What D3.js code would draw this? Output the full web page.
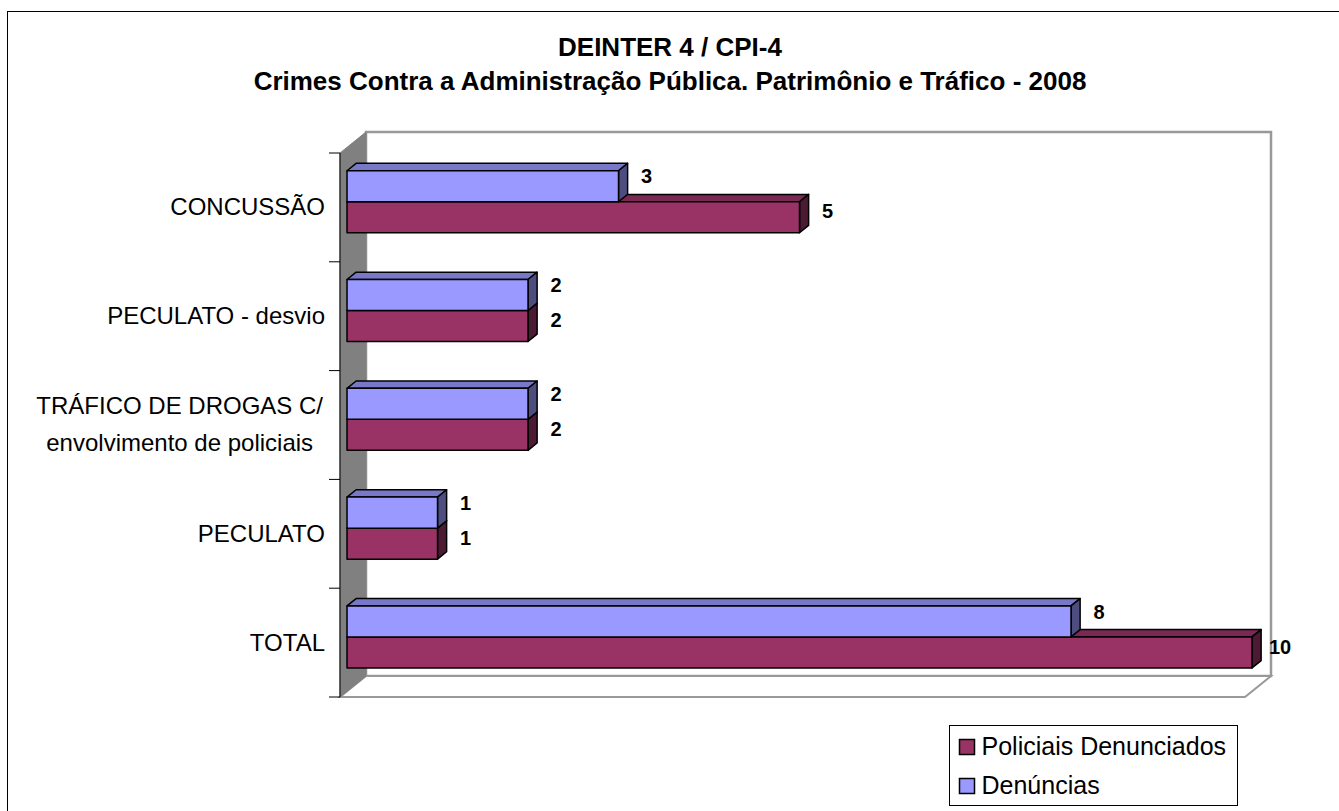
<!DOCTYPE html>
<html>
<head>
<meta charset="utf-8">
<script src="https://cdn.jsdelivr.net/npm/d3@7"></script>
<style>
  body { margin: 0; background: #fff; }
  svg { display: block; font-family: "Liberation Sans", Arial, sans-serif; }
</style>
</head>
<body>
<svg id="chart"></svg>
<script>
const categories = [
  "CONCUSSÃO",
  "PECULATO - desvio",
  "TRÁFICO DE DROGAS C/\nenvolvimento de policiais",
  "PECULATO",
  "TOTAL"
];
const denuncias = [3, 2, 2, 1, 8];
const policiais = [5, 2, 2, 1, 10];
const seriesNames = ["Denúncias", "Policiais Denunciados"];
const xTicks = [0, 10];

const width = 1339, height = 811;
const svg = d3.select("#chart").attr("width", width).attr("height", height);

// chart frame
svg.append("rect")
  .attr("x", 7.5).attr("y", 11.5)
  .attr("width", 1400).attr("height", 900)
  .attr("fill", "none").attr("stroke", "#000").attr("stroke-width", 1);

// title
svg.append("text")
  .attr("x", 670).attr("y", 56)
  .attr("text-anchor", "middle")
  .attr("font-size", 26).attr("font-weight", "bold")
  .text("DEINTER 4 / CPI-4");
svg.append("text")
  .attr("x", 670).attr("y", 90)
  .attr("text-anchor", "middle")
  .attr("font-size", 26).attr("font-weight", "bold")
  .text("Crimes Contra a Administração Pública. Patrimônio e Tráfico - 2008");

// 3d plot geometry
const front = { left: 340, right: 1245, top: 153, bottom: 697 };
const depth = { dx: 26, dy: -21 };
const barF0 = 0.27, barF1 = 0.62;

const x = d3.scaleLinear().domain(d3.extent(xTicks)).range([front.left, front.right]);
const y = d3.scaleBand().domain(categories).range([front.top, front.bottom])
  .paddingInner(0.43).paddingOuter(0.215);
const ySeries = d3.scaleBand().domain(seriesNames).range([0, y.bandwidth()]);

const colors = {
  "Denúncias": { front: "#9999FF", top: "#7878C8", side: "#4D4D80" },
  "Policiais Denunciados": { front: "#993366", top: "#7A2952", side: "#4D1A33" }
};

const P = (px, py, f) => [px + f * depth.dx, py + f * depth.dy];
const poly = pts => pts.map(p => p.join(",")).join(" ");

const plot = svg.append("g");

// back wall
plot.append("rect")
  .attr("x", front.left + depth.dx).attr("y", front.top + depth.dy)
  .attr("width", front.right - front.left).attr("height", front.bottom - front.top)
  .attr("fill", "#fff").attr("stroke", "#999").attr("stroke-width", 2.5);

// floor
plot.append("polygon")
  .attr("points", poly([
    [front.left, front.bottom], P(front.left, front.bottom, 1),
    P(front.right, front.bottom, 1), [front.right, front.bottom]
  ]))
  .attr("fill", "#fff").attr("stroke", "#999").attr("stroke-width", 2);

// left wall
plot.append("polygon")
  .attr("points", poly([
    [front.left, front.top], P(front.left, front.top, 1),
    P(front.left, front.bottom, 1), [front.left, front.bottom]
  ]))
  .attr("fill", "#808080").attr("stroke", "#808080");

// axis line and ticks
plot.append("line")
  .attr("x1", front.left).attr("x2", front.left)
  .attr("y1", front.top).attr("y2", front.bottom)
  .attr("stroke", "#000");
const tickYs = categories.map(c => y(c) - y.step() * y.paddingInner() / 2)
  .concat([front.bottom]);
tickYs[0] = front.top;
plot.selectAll(".tick").data(tickYs).join("line")
  .attr("x1", front.left - 11).attr("x2", front.left)
  .attr("y1", d => d).attr("y2", d => d)
  .attr("stroke", "#000");

// category labels
const catLabels = svg.append("g").attr("font-size", 24);
categories.forEach(c => {
  const lines = c.split("\n");
  const cy = y(c) + y.bandwidth() / 2;
  const lh = 37;
  const t = catLabels.append("text").attr("text-anchor", "end");
  lines.forEach((ln, i) => {
    t.append("tspan")
      .attr("x", 325)
      .attr("y", cy + 8 + (i - (lines.length - 1) / 2) * lh)
      .text(ln);
  });
  if (lines.length > 1) {
    const spans = t.selectAll("tspan").nodes();
    const wMax = d3.max(spans, n => n.getComputedTextLength());
    t.attr("text-anchor", "middle");
    t.selectAll("tspan").attr("x", 323 - wMax / 2).attr("dy", -1);
  }
});

// bars
const rows = categories.map((c, i) => ({
  cat: c,
  values: [
    { name: "Policiais Denunciados", v: policiais[i] },
    { name: "Denúncias", v: denuncias[i] }
  ]
}));

const barsG = plot.append("g").attr("stroke", "#000").attr("stroke-width", 1.5)
  .attr("stroke-linejoin", "round");
rows.forEach(r => {
  r.values.forEach(s => {
    const y0 = y(r.cat) + ySeries(s.name);
    const y1 = y0 + ySeries.bandwidth();
    const xa = x(0), xb = x(s.v);
    const c = colors[s.name];
    // top face
    barsG.append("polygon")
      .attr("points", poly([P(xa, y0, barF0), P(xa, y0, barF1), P(xb, y0, barF1), P(xb, y0, barF0)]))
      .attr("fill", c.top);
    // side face
    barsG.append("polygon")
      .attr("points", poly([P(xb, y0, barF0), P(xb, y0, barF1), P(xb, y1, barF1), P(xb, y1, barF0)]))
      .attr("fill", c.side);
    // front face
    barsG.append("polygon")
      .attr("points", poly([P(xa, y0, barF0), P(xb, y0, barF0), P(xb, y1, barF0), P(xa, y1, barF0)]))
      .attr("fill", c.front);
  });
});

// value labels
const valG = svg.append("g").attr("font-size", 20).attr("font-weight", "bold")
  .attr("text-anchor", "middle");
rows.forEach(r => {
  r.values.forEach(s => {
    const y0 = y(r.cat) + ySeries(s.name);
    const [bx, by] = P(x(s.v), y0, barF1);
    const isBlue = s.name === "Denúncias";
    valG.append("text")
      .attr("x", bx + 19)
      .attr("y", isBlue ? by + 20 : by + 24)
      .text(s.v);
  });
});

// legend
const legend = svg.append("g").attr("transform", "translate(949.5,725.5)");
legend.append("rect").attr("width", 288).attr("height", 80)
  .attr("fill", "#fff").attr("stroke", "#000");
const legendItems = ["Policiais Denunciados", "Denúncias"];
legendItems.forEach((name, i) => {
  legend.append("rect")
    .attr("x", 10).attr("y", 14 + i * 39)
    .attr("width", 15).attr("height", 15)
    .attr("fill", colors[name].front).attr("stroke", "#000").attr("stroke-width", 1.5);
  legend.append("text")
    .attr("x", 32).attr("y", 29 + i * 39)
    .attr("font-size", 25)
    .text(name);
});
</script>
</body>
</html>
